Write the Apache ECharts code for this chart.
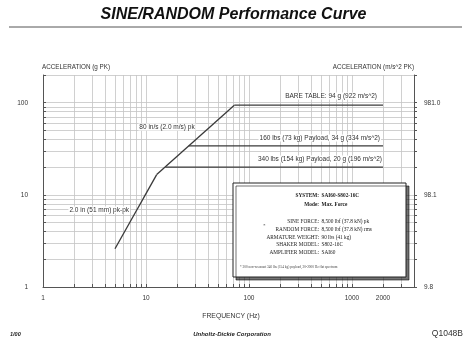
<!DOCTYPE html>
<html><head><meta charset="utf-8">
<script src="https://cdn.jsdelivr.net/npm/echarts@6/dist/echarts.min.js"></script>
<style>html,body{margin:0;padding:0;background:#fff}#c{width:467px;height:345px}</style>
</head><body><div id="c"></div>
<script>
// ---- data ----
const xGridValues = [1,2,3,4,5,6,7,8,9,10,20,30,40,50,60,70,80,90,100,200,300,400,500,600,700,800,900,1000,2000,3000,4000];
const yGridValues = [1,2,3,4,5,6,7,8,9,10,20,30,40,50,60,70,80,90,100,200];
const xLabelValues = [1,10,100,1000,2000];
const yLabelValues = [1,10,100];
const rightLabelText = {1:'9.8', 10:'98.1', 100:'981.0'};

const displacementLine = [[5, 2.6], [12.7, 16.6]];
const velocityLine = [[12.7, 16.6], [72, 94]];
const bareTable = [[72, 94], [2000, 94]];
const payload160 = [[26, 34], [2000, 34]];
const payload340 = [[15.4, 20], [2000, 20]];

const chart = echarts.init(document.getElementById('c'), null, {renderer:'canvas'});
const SANS = 'Liberation Sans, Arial, sans-serif';
const SERIF = 'Liberation Serif, Times New Roman, serif';
const lineStyle = {color:'#3a3a3a', width:1.3};
function seriesOf(data){
  return {type:'line', data:data, symbol:'none', lineStyle:lineStyle, silent:true, animation:false, z:5};
}
function txt(x,y,text,opt){
  opt = opt||{};
  return {type:'text', z:opt.z||50, style:{text:text, x:x, y:y, font:opt.font||('6.5px '+SANS), fill:opt.fill||'#333',
    align:opt.align||'left', verticalAlign:'middle', backgroundColor:opt.bg, padding:opt.bg?[0,1]:0}};
}
const boxFont = '5.3px '+SERIF;
const boxBold = 'bold 5.3px '+SERIF;
const boxRows = [
  ['SYSTEM:', 'SAI60-S802-16C', 195.7, true],
  ['Mode:', 'Max. Force', 204.7, true],
  ['SINE FORCE:', '8,500 lbf (37.8 kN) pk', 221.7, false],
  ['RANDOM FORCE:', '8,500 lbf (37.8 kN) rms', 229.3, false],
  ['ARMATURE WEIGHT:', '90 lbs (41 kg)', 237.3, false],
  ['SHAKER MODEL:', 'S802-16C', 245, false],
  ['AMPLIFIER MODEL:', 'SAI60', 252.3, false]
];
const graphics = [
  txt(233.5, 15, 'SINE/RANDOM Performance Curve', {font:'italic bold 16px '+SANS, align:'center', fill:'#111'}),
  {type:'line', shape:{x1:9, y1:27, x2:462, y2:27}, style:{stroke:'#555', lineWidth:1}},
  txt(42, 67, 'ACCELERATION (g PK)', {font:'6.3px '+SANS}),
  txt(414, 67, 'ACCELERATION (m/s^2 PK)', {font:'6.3px '+SANS, align:'right'}),
  txt(231, 316, 'FREQUENCY (Hz)', {font:'6.8px '+SANS, align:'center'}),
  txt(10, 334, '1/00', {font:'italic bold 5.5px '+SANS, fill:'#222'}),
  txt(232, 334, 'Unholtz-Dickie Corporation', {font:'italic bold 6px '+SANS, align:'center', fill:'#222'}),
  txt(463, 334, 'Q1048B', {font:'8.5px '+SANS, align:'right', fill:'#333'}),
  txt(167, 127, '80 in/s (2.0 m/s) pk', {align:'center', bg:'#fff'}),
  txt(378, 96, 'BARE TABLE: 94 g (922 m/s^2)', {align:'right', bg:'#fff'}),
  txt(381, 138, '160 lbs (73 kg) Payload, 34 g (334 m/s^2)', {align:'right', bg:'#fff'}),
  txt(383, 159, '340 lbs (154 kg) Payload, 20 g (196 m/s^2)', {align:'right', bg:'#fff'}),
  txt(130, 210, '2.0 in (51 mm) pk-pk', {align:'right', bg:'#fff'}),
  {type:'rect', z:60, shape:{x:233, y:183, width:173, height:94},
    style:{fill:'#fff', stroke:'#222', lineWidth:1, shadowColor:'rgba(0,0,0,0.55)', shadowOffsetX:3, shadowOffsetY:3, shadowBlur:0}},
  txt(263, 226, '*', {font:'5px '+SERIF, z:70})
];
boxRows.forEach(r => {
  graphics.push(txt(319, r[2], r[0], {font:r[3]?boxBold:boxFont, align:'right', z:70, fill:'#222'}));
  graphics.push(txt(321.5, r[2], r[1], {font:r[3]?boxBold:boxFont, align:'left', z:70, fill:'#222'}));
});
graphics.push(txt(240, 267, '* 300 non-resonant 340 lbs (154 kg) payload, 20-2000 Hz flat spectrum', {font:'3.4px '+SERIF, z:70, fill:'#444'}));

const axisLine = {show:true, lineStyle:{color:'#555', width:1}};
const option = {
  animation:false,
  backgroundColor:'#fff',
  grid:{left:43, top:75, right:53, bottom:58, containLabel:false},
  xAxis:{type:'log', logBase:10, min:1, max:4000,
    axisLine:axisLine,
    axisTick:{show:true, inside:true, length:3, customValues:xGridValues, lineStyle:{color:'#555'}},
    axisLabel:{customValues:xLabelValues, fontSize:6.5, fontFamily:SANS, color:'#333', margin:8,
      formatter:v => String(Math.round(v))},
    splitLine:{show:true, lineStyle:{color:'#c4c4c4', width:0.8}}
  },
  yAxis:[
    {type:'log', logBase:10, min:1, max:200,
      axisLine:axisLine,
      axisTick:{show:true, inside:true, length:3, customValues:yGridValues, lineStyle:{color:'#555'}},
      axisLabel:{customValues:yLabelValues, fontSize:6.5, fontFamily:SANS, color:'#333', margin:15,
        formatter:v => String(Math.round(v))},
      splitLine:{show:true, lineStyle:{color:'#c4c4c4', width:0.8}}
    },
    {type:'log', logBase:10, min:1, max:200, position:'right',
      axisLine:axisLine,
      axisTick:{show:true, inside:false, length:3, customValues:yGridValues, lineStyle:{color:'#555'}},
      axisLabel:{customValues:yLabelValues, fontSize:6.5, fontFamily:SANS, color:'#333', margin:10,
        formatter:v => rightLabelText[Math.round(v)] || ''},
      splitLine:{show:false}
    }
  ],
  series:[seriesOf(displacementLine), seriesOf(velocityLine), seriesOf(bareTable), seriesOf(payload160), seriesOf(payload340)],
  graphic:{elements:graphics}
};
chart.setOption(option);
</script>
</body></html>
